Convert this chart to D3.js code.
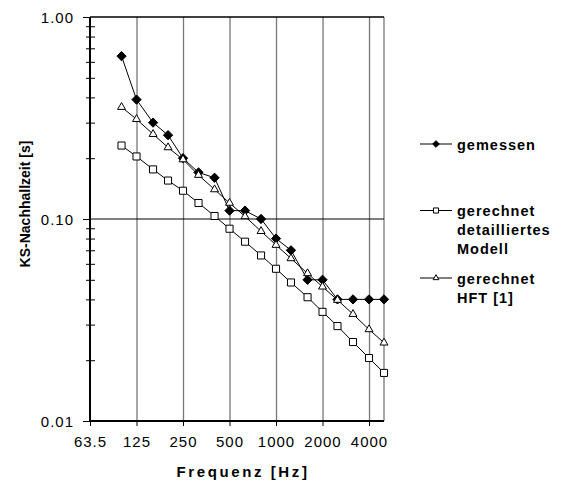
<!DOCTYPE html>
<html>
<head>
<meta charset="utf-8">
<script src="https://cdn.jsdelivr.net/npm/d3@7"></script>
<style>
  body { margin: 0; background: #fff; }
  text { font-family: "Liberation Sans", Arial, sans-serif; fill: #000; }
</style>
</head>
<body>
<div id="chart"></div>
<script>
// Daten (Terzbaender)
var frequenzen = [100, 125, 160, 200, 250, 315, 400, 500, 630, 800, 1000, 1250, 1600, 2000, 2500, 3150, 4000, 5000];
var gemessen = [0.64, 0.39, 0.30, 0.26, 0.20, 0.17, 0.16, 0.11, 0.11, 0.10, 0.08, 0.07, 0.05, 0.05, 0.04, 0.04, 0.04, 0.04];
var detailliert = [0.231, 0.204, 0.176, 0.155, 0.138, 0.120, 0.1035, 0.0895, 0.0772, 0.066, 0.0567, 0.0485, 0.041, 0.0347, 0.0295, 0.0246, 0.0205, 0.0173];
var hft = [0.358, 0.312, 0.263, 0.226, 0.197, 0.165, 0.140, 0.120, 0.103, 0.087, 0.0743, 0.0638, 0.0538, 0.0462, 0.0397, 0.0338, 0.0284, 0.0244];

var xTicks = [62.5, 125, 250, 500, 1000, 2000, 4000];
var xTickLabels = ["63.5", "125", "250", "500", "1000", "2000", "4000"];
var yTicks = [0.01, 0.1, 1];
var yMinor = [0.02, 0.03, 0.04, 0.05, 0.06, 0.07, 0.08, 0.09, 0.2, 0.3, 0.4, 0.5, 0.6, 0.7, 0.8, 0.9];

var margin = {top: 17, right: 179, bottom: 60, left: 90},
    width = 563 - margin.left - margin.right,
    height = 481 - margin.top - margin.bottom;

var svg = d3.select("#chart")
  .append("svg")
    .attr("width", 563)
    .attr("height", 481)
  .append("g")
    .attr("transform", "translate(" + margin.left + "," + margin.top + ")");

var x = d3.scaleLog().domain([62.5, 5000]).range([0, width]);
var y = d3.scaleLog().domain([0.01, 1]).range([height, 0]);

// vertikale Gitterlinien
svg.append("g")
  .attr("transform", "translate(0," + height + ")")
  .call(d3.axisBottom(x).tickValues(xTicks.slice(1)).tickSize(-height).tickFormat(""))
  .call(function(g) {
    g.select(".domain").remove();
    g.selectAll(".tick line").attr("stroke", "#777").attr("stroke-width", 1.3);
  });

// rechter Rand
svg.append("line")
  .attr("x1", width).attr("x2", width)
  .attr("y1", 0).attr("y2", height)
  .attr("stroke", "#777").attr("stroke-width", 1.3);

// horizontale Linie bei 0.10 und oberer Rand
svg.append("line")
  .attr("x1", 0).attr("x2", width)
  .attr("y1", y(0.1)).attr("y2", y(0.1))
  .attr("stroke", "#000").attr("stroke-width", 1);
svg.append("line")
  .attr("x1", 0).attr("x2", width)
  .attr("y1", 0).attr("y2", 0)
  .attr("stroke", "#000").attr("stroke-width", 1.5);

// Nebenteilstriche
svg.append("g")
  .call(d3.axisLeft(y).tickValues(yMinor).tickSize(4).tickFormat(""))
  .call(function(g) { g.select(".domain").remove(); });
svg.append("g")
  .call(d3.axisRight(y).tickValues(yMinor).tickSize(5).tickFormat(""))
  .call(function(g) { g.select(".domain").remove(); });

// y-Achse
svg.append("g")
  .call(d3.axisLeft(y).tickValues(yTicks).tickSize(7).tickPadding(9).tickFormat(d3.format(".2f")))
  .call(function(g) {
    g.select(".domain").attr("stroke-width", 2).attr("d", "M0,0V" + height);
    g.selectAll("text")
      .style("font-size", "15px")
      .style("letter-spacing", "1px")
      .attr("dy", "0.36em");
  });

// x-Achse
svg.append("g")
  .attr("transform", "translate(0," + height + ")")
  .call(d3.axisBottom(x).tickValues(xTicks).tickSize(5).tickPadding(10)
    .tickFormat(function(d, i) { return xTickLabels[i]; }))
  .call(function(g) {
    g.select(".domain").attr("stroke-width", 2).attr("d", "M0,0H" + width);
    g.selectAll("text")
      .style("font-size", "15px")
      .style("letter-spacing", "1px");
  });

// Achsentitel
svg.append("text")
  .attr("x", width / 2 + 6)
  .attr("y", height + 56)
  .attr("text-anchor", "middle")
  .style("font-size", "15px")
  .style("font-weight", "bold")
  .style("letter-spacing", "2.6px")
  .text("Frequenz [Hz]");

svg.append("text")
  .attr("transform", "translate(" + (30 - margin.left) + "," + (204 - margin.top) + ") rotate(-90)")
  .attr("text-anchor", "middle")
  .style("font-size", "14px")
  .style("font-weight", "bold")
  .text("KS-Nachhallzeit [s]");

// Linien
var reihen = [
  {name: "gemessen", werte: gemessen, marker: "diamond"},
  {name: "detailliert", werte: detailliert, marker: "square"},
  {name: "hft", werte: hft, marker: "triangle"}
];

var linie = d3.line()
  .x(function(d) { return x(d[0]); })
  .y(function(d) { return y(d[1]); });

function markerPfad(typ, s) {
  if (typ === "diamond") return d3.symbol().type(d3.symbolDiamond2).size(s * 1.1)();
  if (typ === "square") return d3.symbol().type(d3.symbolSquare).size(s)();
  return d3.symbol().type(d3.symbolTriangle2).size(s * 0.9)();
}

reihen.forEach(function(r) {
  var pts = frequenzen.map(function(f, i) { return [f, r.werte[i]]; });
  svg.append("path")
    .datum(pts)
    .attr("fill", "none")
    .attr("stroke", "#000")
    .attr("stroke-width", 1)
    .attr("d", linie);
});

reihen.forEach(function(r) {
  var pts = frequenzen.map(function(f, i) { return [f, r.werte[i]]; });
  svg.append("g")
    .selectAll("path")
    .data(pts)
    .enter()
    .append("path")
      .attr("transform", function(d) { return "translate(" + x(d[0]) + "," + y(d[1]) + ")"; })
      .attr("d", markerPfad(r.marker, 50))
      .attr("fill", r.marker === "diamond" ? "#000" : "#fff")
      .attr("stroke", "#000")
      .attr("stroke-width", 1);
});

// Legende
var legende = [
  {marker: "diamond", y: 144, zeilen: ["gemessen"]},
  {marker: "square", y: 210.5, zeilen: ["gerechnet", "detailliertes", "Modell"]},
  {marker: "triangle", y: 278, zeilen: ["gerechnet", "HFT [1]"]}
];

var leg = svg.append("g").attr("transform", "translate(" + (420 - margin.left) + "," + (-margin.top) + ")");

legende.forEach(function(l) {
  leg.append("line")
    .attr("x1", 0).attr("x2", 32)
    .attr("y1", l.y).attr("y2", l.y)
    .attr("stroke", "#000").attr("stroke-width", 1);
  leg.append("path")
    .attr("transform", "translate(16," + l.y + ")")
    .attr("d", markerPfad(l.marker, 26))
    .attr("fill", l.marker === "diamond" ? "#000" : "#fff")
    .attr("stroke", "#000")
    .attr("stroke-width", 1);
  l.zeilen.forEach(function(z, i) {
    leg.append("text")
      .attr("x", 37)
      .attr("y", l.y + 5.7 + i * 18.8)
      .style("font-size", "14.5px")
      .style("font-weight", "bold")
      .style("letter-spacing", "1px")
      .text(z);
  });
});
</script>
</body>
</html>
